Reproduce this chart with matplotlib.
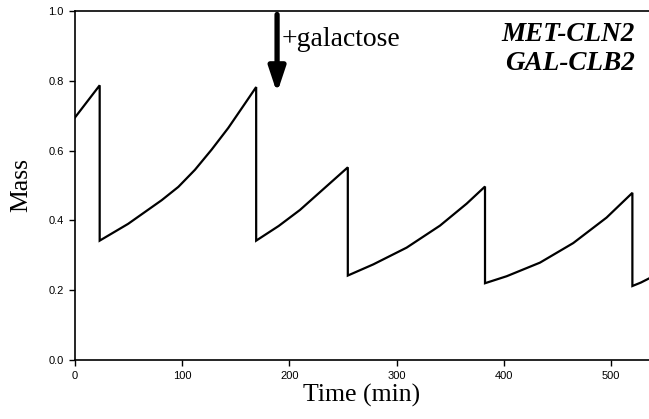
import matplotlib
matplotlib.use("Agg")
import matplotlib.pyplot as plt

plt.rcParams['font.family'] = ['Liberation Sans', 'DejaVu Sans']

# mass trace (time in min); each drop is a repeated time
t = [0, 10, 23,
     23, 49.5, 80.9, 96.4, 111.9, 127.5, 143, 158.6, 169,
     169, 190, 209.9, 230, 254.5,
     254.5, 278.3, 309.4, 340.5, 365.4, 382.5,
     382.5, 402.7, 433.8, 464.8, 495.9, 520,
     520, 528, 535.7]
mass = [0.695, 0.735, 0.787,
        0.342, 0.390, 0.458, 0.496, 0.545, 0.603, 0.665, 0.735, 0.782,
        0.342, 0.384, 0.430, 0.485, 0.552,
        0.242, 0.274, 0.322, 0.385, 0.448, 0.497,
        0.220, 0.240, 0.279, 0.335, 0.408, 0.479,
        0.212, 0.222, 0.234]

xticks = [0, 100, 200, 300, 400, 500]
yticks = [0.0, 0.2, 0.4, 0.6, 0.8, 1.0]
galactose_t = 188.5

fig = plt.figure(figsize=(6.49, 4.19), dpi=100)
ax = fig.add_axes([0.1156, 0.1408, 0.8844, 0.833])
ax.plot(t, mass, color='k', lw=1.6, solid_joinstyle='miter')
ax.set_xlim(0, 535.5)
ax.set_ylim(0, 1.0)
ax.spines['right'].set_visible(False)
for s in ['left', 'bottom', 'top']:
    ax.spines[s].set_linewidth(1.2)
ax.set_xticks(xticks)
ax.set_yticks(yticks)
ax.set_xticklabels([str(v) for v in xticks], fontsize=8)
ax.set_yticklabels([f"{v:.1f}" for v in yticks], fontsize=8)
ax.tick_params(direction='out', length=4, width=1, pad=4)

ax.set_xlabel("Time (min)", family='Liberation Serif', fontsize=18.5, labelpad=2)
ax.set_ylabel("Mass", family='Liberation Serif', fontsize=18.5, labelpad=12)

ax.annotate("", xy=(galactose_t, 0.765), xytext=(galactose_t, 0.99),
            arrowprops=dict(arrowstyle='-|>,head_width=0.5,head_length=1.5',
                            color='k', lw=3.8, shrinkA=0, shrinkB=0))
ax.text(galactose_t + 4, 0.918, "+galactose", family='Liberation Serif',
        fontsize=20, ha='left', va='center')

ax.text(522, 0.934, "MET-CLN2", family='Liberation Serif', fontsize=19.5,
        fontweight='bold', style='italic', ha='right', va='center')
ax.text(522, 0.849, "GAL-CLB2", family='Liberation Serif', fontsize=19.5,
        fontweight='bold', style='italic', ha='right', va='center')

fig.savefig("out.png", dpi=100)
